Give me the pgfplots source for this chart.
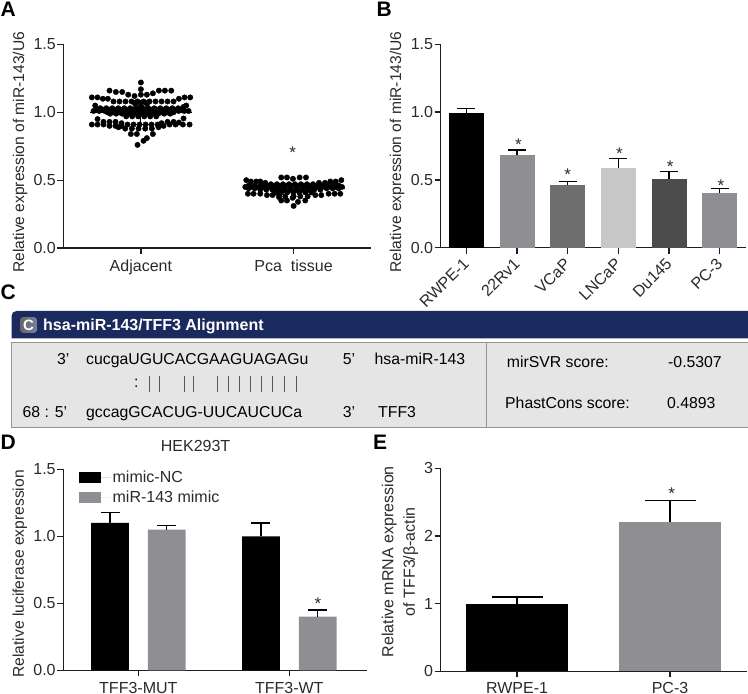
\documentclass[border=0pt]{standalone}
\usepackage{fontspec}
\setmainfont{Liberation Sans}
\usepackage{pgfplots}
\pgfplotsset{compat=1.18}
\newcommand\tf{\fontsize{16}{19}\selectfont}
\newcommand\yf{\fontsize{15.6}{21}\selectfont}
\newcommand\cf{\fontsize{15.8}{18}\selectfont}
\definecolor{gbar}{HTML}{8F8E93}
\definecolor{navy}{HTML}{1B2A5E}
\definecolor{axc}{HTML}{1E1E1E}
\definecolor{txt}{HTML}{2A2A2A}
\pgfplotsset{
  panel/.style={
    scale only axis, clip=false,
    axis x line*=bottom, axis y line*=left,
    axis line style={-, line width=1.3pt, color=axc},
    tick style={line width=1.3pt, color=axc},
    tick align=outside, major tick length=6pt,
    tick label style={font=\tf, color=txt},
    yticklabel style={inner sep=1.5pt},
    label style={font=\yf, color=txt},
    title style={font=\tf, color=txt},
    legend style={font=\tf, text=txt},
    /pgf/number format/assume math mode=true,
    /pgf/number format/fixed,
    /pgf/number format/fixed zerofill,
    /pgf/number format/precision=1,
    ymin=0,
  },
  errs/.style={error bars/.cd, y dir=plus, y explicit,
    error bar style={line width=1.3pt, color=black},
    error mark options={rotate=90, mark size=#1, line width=1.3pt, color=black}},
}
\tikzset{
  sig/.style={font=\fontsize{17}{17}\selectfont, inner sep=0pt, anchor=center, color=txt},
  lbl/.style={font=\cf, inner sep=0pt, anchor=base west, color=black},
  let/.style={font=\fontsize{21}{21}\selectfont\bfseries, inner sep=0pt, anchor=base west},
}
\begin{document}
\begin{tikzpicture}[x=1pt,y=1pt]
\path[use as bounding box] (0,0) rectangle (748,694);

% panel letters
\node[let] at (0.5,677) {A};
\node[let] at (376.5,677) {B};
\node[let] at (0.5,394) {C};
\node[let] at (0.5,244) {D};
\node[let] at (373,244) {E};

% A: dot plot, x is in positions
\begin{axis}[panel, at={(63.5pt,446pt)}, anchor=south west, width=307.5pt, height=203.5pt,
  xmin=190, xmax=1112, ymax=1.5, xtick={422,880}, xticklabels={Adjacent,{Pca\ \ tissue}},
  xticklabel style={yshift=-2.5pt},
  ytick={0,0.5,1,1.5},
  ylabel={Relative expression of miR-143/U6},
  ylabel style={at={(axis description cs:-0.141,0.47)}, anchor=center}]
\addplot[only marks, mark=*, mark size=2.7pt, color=black] coordinates {
(422,1.22)(422,1.17)(328,1.16)(347,1.15)(366,1.15)(476,1.16)(494,1.16)(513,1.16)
(384,1.13)(403,1.12)(422,1.13)(440,1.13)(458,1.14)
(275,1.11)(292,1.11)(308,1.10)(323,1.10)(536,1.10)(553,1.11)(570,1.11)
(340,1.08)(358,1.08)(376,1.08)(394,1.08)(412,1.08)(430,1.08)(448,1.08)(466,1.08)(484,1.08)(502,1.08)(520,1.08)
(285,1.05)(558,1.05)(405,1.06)(422,1.05)(440,1.06)
(300,1.03)(318,1.03)(336,1.03)(354,1.03)(372,1.03)(390,1.03)(408,1.03)(426,1.03)(444,1.03)(462,1.03)(480,1.03)(498,1.03)(516,1.03)(534,1.03)(550,1.04)
(290,1.02)(308,1.02)(326,1.02)(344,1.02)(362,1.02)(380,1.02)(398,1.02)(416,1.02)(434,1.02)(452,1.02)(470,1.02)(488,1.02)(506,1.02)(524,1.02)(542,1.02)
(280,1.01)(297,1.01)(314,1.01)(331,1.01)(348,1.01)(365,1.01)(382,1.01)(399,1.01)(416,1.01)(433,1.01)(450,1.01)(467,1.01)(484,1.01)(501,1.01)(518,1.01)(535,1.01)(552,1.01)(565,1.01)
(322,1.00)(340,1.00)(358,1.00)(376,1.00)(394,1.00)(412,1.00)(430,1.00)(448,1.00)(466,1.00)(484,1.00)(502,1.00)(520,1.00)
(330,0.99)(348,0.99)(366,0.99)(384,0.99)(402,0.99)(420,0.99)(438,0.99)(456,0.99)(474,0.99)(492,0.99)(510,0.99)
(378,0.97)(396,0.97)(414,0.97)(432,0.97)(450,0.97)(468,0.97)
(292,0.95)(550,0.955)
(310,0.93)(328,0.93)(346,0.93)(364,0.92)(520,0.93)(502,0.93)(536,0.925)(484,0.92)
(275,0.91)(292,0.91)(310,0.91)(328,0.90)(346,0.90)(364,0.90)(382,0.91)(400,0.91)(418,0.91)(436,0.91)(454,0.91)(472,0.91)(490,0.90)(508,0.91)(526,0.91)(548,0.91)(568,0.91)
(355,0.89)(375,0.88)(395,0.88)(415,0.88)(435,0.88)(455,0.88)(475,0.89)
(392,0.84)(410,0.84)(458,0.84)(440,0.81)(430,0.79)(412,0.76)
};
\addplot[only marks, mark=*, mark size=2.7pt, color=black] coordinates {
(843,0.52)(860,0.52)(878,0.51)(898,0.52)(917,0.52)
(738,0.50)(752,0.49)(768,0.49)(780,0.49)(990,0.49)(1006,0.49)(1023,0.50)
(795,0.48)(812,0.47)(830,0.47)(848,0.47)(866,0.47)(884,0.47)(902,0.47)(920,0.47)(938,0.47)(956,0.48)(974,0.48)
(745,0.46)(763,0.46)(781,0.46)(799,0.46)(817,0.46)(835,0.46)(853,0.46)(871,0.46)(889,0.46)(907,0.46)(925,0.46)(943,0.46)(961,0.46)(979,0.46)(997,0.46)(1015,0.46)
(735,0.45)(752,0.45)(769,0.45)(786,0.45)(803,0.45)(820,0.45)(837,0.45)(854,0.45)(871,0.45)(888,0.45)(905,0.45)(922,0.45)(939,0.45)(956,0.45)(973,0.45)(990,0.45)(1007,0.45)(1025,0.45)
(745,0.44)(763,0.44)(781,0.44)(799,0.44)(817,0.44)(835,0.44)(853,0.44)(871,0.44)(889,0.44)(907,0.44)(925,0.44)(943,0.44)(961,0.44)(979,0.44)(997,0.44)(1015,0.44)
(780,0.43)(798,0.43)(816,0.43)(834,0.43)(852,0.43)(870,0.43)(888,0.43)(906,0.43)(924,0.43)(942,0.43)(960,0.43)
(825,0.41)(843,0.41)(861,0.41)(879,0.41)(897,0.41)(915,0.41)(933,0.41)
(743,0.40)(760,0.40)(780,0.40)(800,0.39)(817,0.39)(837,0.39)(945,0.39)(963,0.39)(985,0.40)(1003,0.40)(1020,0.40)
(836,0.375)(855,0.38)(880,0.38)(900,0.38)(922,0.38)
(843,0.35)(860,0.35)(877,0.37)(893,0.34)(915,0.35)(880,0.31)
};
% mean and SD lines
\addplot[line width=1.2pt, color=black] coordinates {(270,1.00)(575,1.00)};
\addplot[line width=1.2pt, color=black] coordinates {(395,1.09)(450,1.09)};
\addplot[line width=1.2pt, color=black] coordinates {(422,1.09)(422,0.91)};
\addplot[line width=1.2pt, color=black] coordinates {(395,0.91)(450,0.91)};
\addplot[line width=1.2pt, color=black] coordinates {(728,0.44)(1033,0.44)};
\node[sig] at (axis cs:877,0.70) {*};
\end{axis}

% B: cell lines
\begin{axis}[panel, at={(440.7pt,446.3pt)}, anchor=south west, width=305pt, height=203.4pt,
  ybar, bar width=35pt, bar shift=0pt,
  xmin=-0.505, xmax=5.511, ymax=1.5, xtick={0,1,2,3,4,5},
  xticklabels={RWPE-1,22Rv1,VCaP,LNCaP,Du145,PC-3},
  xticklabel style={rotate=45, anchor=north east, xshift=-2pt, yshift=4pt},
  ytick={0,0.5,1,1.5},
  ylabel={Relative expression of miR-143/U6},
  ylabel style={at={(axis description cs:-0.143,0.47)}, anchor=center}]
\addplot[fill=black, draw=none, errs=9pt] coordinates {(0,0.995) +- (0,0.03)};
\addplot[fill=gbar, draw=none, errs=9pt] coordinates {(1,0.68) +- (0,0.04)};
\addplot[fill=black!57, draw=none, errs=9pt] coordinates {(2,0.46) +- (0,0.03)};
\addplot[fill=black!22, draw=none, errs=9pt] coordinates {(3,0.59) +- (0,0.07)};
\addplot[fill=black!70, draw=none, errs=9pt] coordinates {(4,0.51) +- (0,0.053)};
\addplot[fill=gbar, draw=none, errs=9pt] coordinates {(5,0.40) +- (0,0.035)};
\node[sig] at (axis cs:1.03,0.76) {*};
\node[sig] at (axis cs:2,0.535) {*};
\node[sig] at (axis cs:3.02,0.69) {*};
\node[sig] at (axis cs:4.02,0.595) {*};
\node[sig] at (axis cs:5.02,0.455) {*};
\end{axis}

% C: alignment box
\fill[navy] (11.5,355.5) [rounded corners=5pt] -- (11.5,383) [sharp corners] -- (748,383) -- (748,355.5) -- cycle;
\fill[black!10] (11.5,266.5) rectangle (748,351.5);
\draw[black!42, line width=1.5pt] (748,351.5) -- (11.5,351.5) -- (11.5,266.5) -- (748,266.5);
\draw[black!42, line width=1.5pt] (486.6,351.5) -- (486.6,266.5);
\fill[left color=black!60, right color=navy!60, rounded corners=3pt] (20,361) rectangle (37,377);
\node[font=\fontsize{15}{15}\selectfont\bfseries, text=white, inner sep=0pt] at (28.5,369) {C};
\node[lbl, text=white, font=\fontsize{16}{18}\selectfont\bfseries] at (43,363) {hsa-miR-143/TFF3 Alignment};

\node[lbl] at (57,329) {3’};
\node[lbl] at (86,329) {cucgaUGUCACGAAGUAGAGu};
\node[lbl] at (342.6,329) {5’};
\node[lbl] at (374.5,329) {hsa-miR-143};
\node[lbl] at (134,306) {:};
\foreach \bx in {149,159,184,193,217,228,239,250,261,272,284,296}
  \draw[black!65, line width=0.8pt] (\bx,302.3) -- (\bx,318);
\node[lbl] at (22.4,276.3) {68 : 5’};
\node[lbl] at (86,276.3) {gccagGCACUG-UUCAUCUCa};
\node[lbl] at (342.6,276.3) {3’};
\node[lbl] at (378,276.3) {TFF3};
\node[lbl] at (506.7,326) {mirSVR score:};
\node[lbl] at (668,326) {-0.5307};
\node[lbl] at (505,285) {PhastCons score:};
\node[lbl] at (667,285) {0.4893};

% D: luciferase
\begin{axis}[panel, at={(63.3pt,23.7pt)}, anchor=south west, width=303.4pt, height=201pt,
  ybar, bar width=37.7pt,
  xmin=-0.497, xmax=1.513, ymax=1.5, xtick={0,1}, xticklabels={TFF3-MUT,TFF3-WT},
  xticklabel style={inner sep=0pt, yshift=-5.8pt},
  ytick={0,0.5,1,1.5},
  title={HEK293T},
  title style={at={(axis description cs:0.436,1.0876)}, anchor=center},
  ylabel={Relative luciferase expression},
  ylabel style={at={(axis description cs:-0.143,0.48)}, anchor=center},
  legend cell align=left,
  legend style={draw=none, fill=none, at={(axis description cs:0.05,1.005)}, anchor=north west,
    row sep=3.5pt, inner sep=0pt},
  legend image code/.code={\fill[#1] (0pt,-5.5pt) rectangle (22pt,5.5pt); \path (0pt,0pt) -- (32pt,0pt);}]
\addplot[color=black, fill=black, draw=none, bar shift=-28.3pt, errs=9.5pt] coordinates {(0,1.10) +- (0,0.08) (1,1.00) +- (0,0.10)};
\addplot[color=gbar, fill=gbar, draw=none, bar shift=28.5pt, errs=9.5pt] coordinates {(0,1.05) +- (0,0.03) (1,0.40) +- (0,0.05)};
\legend{mimic-NC,miR-143 mimic}
\node[sig] at (axis cs:1.19,0.50) {*};
\end{axis}

% E: mRNA
\begin{axis}[panel, at={(440.7pt,22.7pt)}, anchor=south west, width=306pt, height=203pt,
  ybar, bar width=101.7pt, bar shift=0pt,
  xmin=-0.4987, xmax=1.501, ymax=3, xtick={0,1}, xticklabels={RWPE-1,PC-3},
  xticklabel style={inner sep=0pt, yshift=-5.3pt},
  ytick={0,1,2,3}, yticklabel style={/pgf/number format/precision=0},
  ylabel={Relative mRNA expression\\of TFF3/β-actin},
  ylabel style={at={(axis description cs:-0.133,0.54)}, anchor=center, align=center, font=\fontsize{16}{21.5}\selectfont}]
\addplot[fill=black, draw=none, errs=25.5pt] coordinates {(0,1.00) +- (0,0.10)};
\addplot[fill=gbar, draw=none, errs=25.5pt] coordinates {(1,2.20) +- (0,0.32)};
\node[sig] at (axis cs:1.01,2.62) {*};
\end{axis}
\end{tikzpicture}
\end{document}
